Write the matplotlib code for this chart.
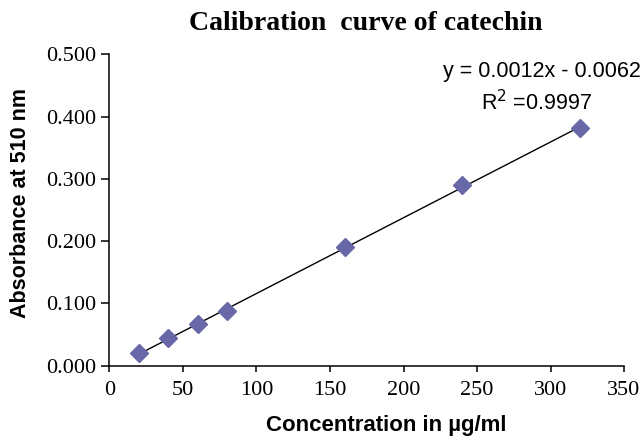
import numpy as np
import matplotlib
matplotlib.use("Agg")
import matplotlib.pyplot as plt

conc = [20, 40, 60, 80, 160, 240, 320]
absorb = [0.0196, 0.0437, 0.066, 0.0875, 0.190, 0.290, 0.381]
x_ticks = [0, 50, 100, 150, 200, 250, 300, 350]
y_ticks = [0.0, 0.1, 0.2, 0.3, 0.4, 0.5]

W, H = 644, 437
fig = plt.figure(figsize=(6.44, 4.37), dpi=100)
ax = fig.add_axes([0.170, 0.1636, 0.799, 0.712])

slope, intercept = np.polyfit(conc, absorb, 1)
xl = np.array([min(conc), max(conc)])
ax.plot(xl, slope * xl + intercept, color="black", lw=1.0, zorder=2)
ax.plot(conc, absorb, linestyle="none", marker="D", ms=9,
        color="#6868A8", mec="#6868A8", zorder=3)

ax.set_xlim(0, 350)
ax.set_ylim(0, 0.5)
ax.set_xticks(x_ticks)
ax.set_yticks(y_ticks)
ax.set_yticklabels([f"{v:.3f}" for v in y_ticks])
for s in ["top", "right"]:
    ax.spines[s].set_visible(False)
for s in ["left", "bottom"]:
    ax.spines[s].set_linewidth(1.1)
ax.tick_params(direction="out", width=1.1, labelsize=16)
ax.tick_params(axis="x", length=4.5, pad=6.5)
ax.tick_params(axis="y", length=5.5, pad=4)
for lab in ax.get_xticklabels() + ax.get_yticklabels():
    lab.set_fontfamily("Liberation Serif")

ax.set_xlabel("Concentration in µg/ml", fontfamily="Liberation Sans",
              fontweight="bold", fontsize=16, va="center", ha="center")
ax.xaxis.set_label_coords((386 - 109.5) / 514.5, (365.5 - 425) / 311)
ax.set_ylabel("Absorbance at 510 nm", fontfamily="Liberation Sans",
              fontweight="bold", fontsize=15.5, va="center", ha="center")
ax.yaxis.set_label_coords((21 - 109.5) / 514.5, (365.5 - 203) / 311)

fig.text(366 / W, 1 - 23 / H, "Calibration  curve of catechin", ha="center", va="center",
         fontfamily="Liberation Serif", fontweight="bold", fontsize=20)

fig.text(542 / W, 1 - 72 / H, "y = 0.0012x - 0.0062", ha="center", va="center",
         fontfamily="Liberation Sans", fontsize=15.5)
fig.text(537 / W, 1 - 103 / H, "R$^2$ =0.9997", ha="center", va="center",
         fontfamily="Liberation Sans", fontsize=15.5)

fig.savefig("out.png", dpi=100)
